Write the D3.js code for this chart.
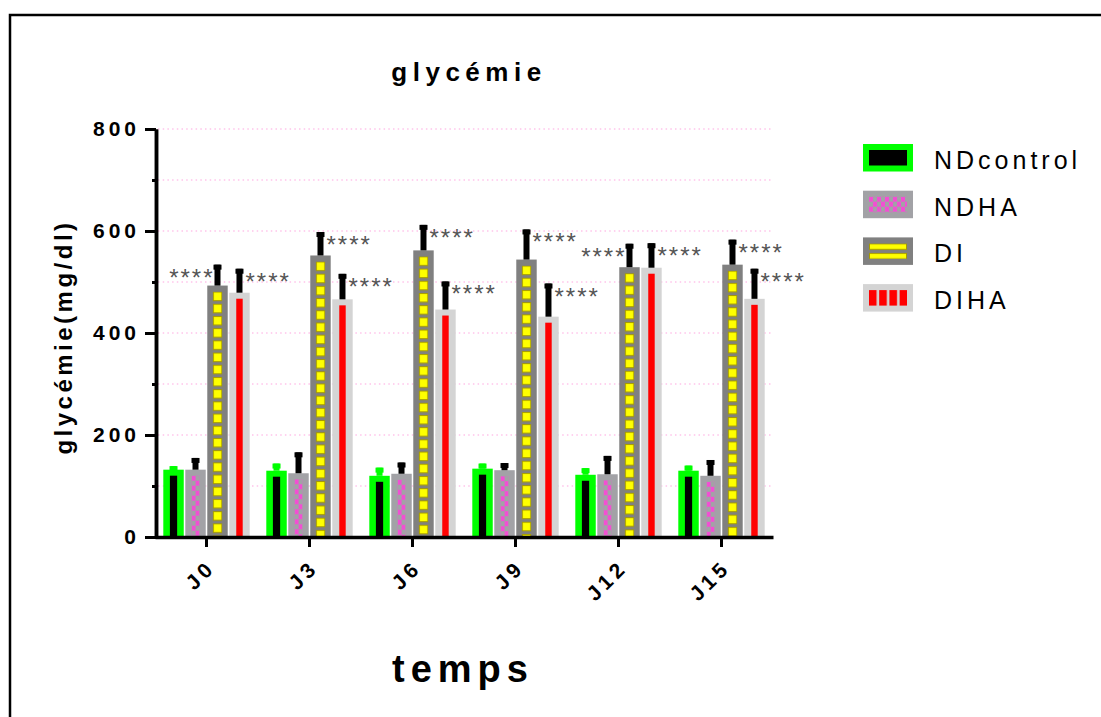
<!DOCTYPE html>
<html>
<head>
<meta charset="utf-8">
<script src="https://cdn.jsdelivr.net/npm/d3@7"></script>
<style>
body { margin: 0; background: #fff; }
text { font-family: "Liberation Sans", Arial, sans-serif; }
</style>
</head>
<body>
<script>
// data
var categories = ["J0", "J3", "J6", "J9", "J12", "J15"];
var seriesNames = ["NDcontrol", "NDHA", "DI", "DIHA"];

var ndControl = [132, 130, 120, 134, 122, 130];
var ndControlSd = [7, 14, 16, 10, 13, 10];
var ndha = [132, 125, 124, 131, 123, 120];
var ndhaSd = [23, 41, 22, 14, 36, 31];
var di = [493, 552, 562, 544, 529, 534];
var diSd = [41, 46, 50, 59, 46, 49];
var diha = [479, 466, 446, 432, 528, 467];
var dihaSd = [47, 50, 55, 65, 48, 59];

// which side the significance stars sit on
var diStars = ["left", "right", "right", "right", "left", "right"];
var dihaStars = ["right", "right", "right", "right", "right", "right"];

var yMajorTicks = [0, 200, 400, 600, 800];
var yMinorTicks = [100, 300, 500, 700];
var gridValues = [100, 200, 300, 400, 500, 600, 700, 800];

var legendLabels = ["NDcontrol", "NDHA", "DI", "DIHA"];

window.onload = drawChart();

function drawChart(){

    var width = 1101,
        height = 717;

    var svg = d3.select("body")
        .append("svg")
        .attr("width", width)
        .attr("height", height);

    // frame around the whole figure
    svg.append("rect")
        .attr("x", 10)
        .attr("y", 15)
        .attr("width", 1200)
        .attr("height", 800)
        .attr("fill", "none")
        .attr("stroke", "#000")
        .attr("stroke-width", 2.5);

    var defs = svg.append("defs");

    // NDHA: magenta checker
    var pNdha = defs.append("pattern")
        .attr("id", "pNdha")
        .attr("patternUnits", "userSpaceOnUse")
        .attr("width", 8)
        .attr("height", 10);
    pNdha.append("rect").attr("x", 0).attr("y", 0).attr("width", 4).attr("height", 5).attr("fill", "#f24fd3");
    pNdha.append("rect").attr("x", 4).attr("y", 5).attr("width", 4).attr("height", 5).attr("fill", "#f24fd3");

    // DI: yellow blocks with olive edge
    var diInnerW = 9.4;
    var pDi = defs.append("pattern")
        .attr("id", "pDi")
        .attr("patternUnits", "userSpaceOnUse")
        .attr("width", diInnerW)
        .attr("height", 12.2);
    pDi.append("rect")
        .attr("x", 0.5).attr("y", 0.5)
        .attr("width", diInnerW - 1).attr("height", 8.6)
        .attr("fill", "#ffff00")
        .attr("stroke", "#a69b00")
        .attr("stroke-width", 1);

    // legend versions
    var pDiLeg = defs.append("pattern")
        .attr("id", "pDiLeg")
        .attr("patternUnits", "userSpaceOnUse")
        .attr("width", 38)
        .attr("height", 9.5);
    pDiLeg.append("rect")
        .attr("x", 0.5).attr("y", 0.5)
        .attr("width", 37).attr("height", 5.5)
        .attr("fill", "#ffff00")
        .attr("stroke", "#a69b00")
        .attr("stroke-width", 1);

    var pDihaLeg = defs.append("pattern")
        .attr("id", "pDihaLeg")
        .attr("patternUnits", "userSpaceOnUse")
        .attr("width", 10.2)
        .attr("height", 20);
    pDihaLeg.append("rect").attr("x", 0).attr("y", 0).attr("width", 7.6).attr("height", 20).attr("fill", "#ff0000");

    // styles per series
    var styles = [
        {border: "#00ff00", fill: "#000000", legFill: "#000000", err: "#00ff00", inset: 6.6},
        {border: "#a2a2a6", fill: "url(#pNdha)", legFill: "url(#pNdha)", err: "#000000", inset: 6.3},
        {border: "#808080", fill: "url(#pDi)", legFill: "url(#pDiLeg)", err: "#000000", inset: 5.6},
        {border: "#d4d4d4", fill: "#ff0000", legFill: "url(#pDihaLeg)", err: "#000000", inset: 7}
    ];

    var means = [ndControl, ndha, di, diha];
    var sds = [ndControlSd, ndhaSd, diSd, dihaSd];

    // build one row per bar
    var rows = [];
    categories.forEach(function(cat, i){
        seriesNames.forEach(function(s, j){
            rows.push({cat: cat, series: s, idx: j, mean: means[j][i], sd: sds[j][i]});
        });
    });

    var x = d3.scaleBand()
        .domain(categories)
        .range([155, 773]);

    var xInner = d3.scaleBand()
        .domain(seriesNames)
        .range([-43.2, 43.2])
        .paddingInner(0.07);

    var y = d3.scaleLinear()
        .domain([0, 800])
        .range([537, 129]);

    // dotted pink gridlines
    svg.selectAll(".grid")
        .data(gridValues)
        .enter()
        .append("line")
        .attr("class", "grid")
        .attr("x1", 158)
        .attr("x2", 773)
        .attr("y1", function(d){ return y(d); })
        .attr("y2", function(d){ return y(d); })
        .attr("stroke", "#ffc4ea")
        .attr("stroke-width", 1.5)
        .attr("stroke-dasharray", "1.5,3.2");

    var bw = xInner.bandwidth();

    var bars = svg.selectAll(".bar")
        .data(rows)
        .enter()
        .append("g")
        .attr("class", "bar")
        .attr("transform", function(d){
            return "translate(" + (x(d.cat) + x.bandwidth() / 2 + xInner(d.series)) + "," + y(d.mean) + ")";
        });

    bars.append("rect")
        .attr("x", 0)
        .attr("y", 0)
        .attr("width", bw)
        .attr("height", function(d){ return y(0) - y(d.mean); })
        .attr("fill", function(d){ return styles[d.idx].border; });

    bars.append("g")
        .attr("transform", function(d){
            var ins = styles[d.idx].inset;
            return "translate(" + ins + ",6)";
        })
        .append("rect")
        .attr("x", 0)
        .attr("y", 0)
        .attr("width", function(d){ return bw - 2 * styles[d.idx].inset; })
        .attr("height", function(d){ return y(0) - y(d.mean) - 6; })
        .attr("fill", function(d){ return styles[d.idx].fill; });

    // error bars (mean to mean + sd)
    bars.append("line")
        .attr("x1", bw / 2)
        .attr("x2", bw / 2)
        .attr("y1", 0)
        .attr("y2", function(d){ return y(d.mean + d.sd) - y(d.mean); })
        .attr("stroke", function(d){ return styles[d.idx].err; })
        .attr("stroke-width", 6);

    bars.append("rect")
        .attr("x", bw / 2 - 4)
        .attr("y", function(d){ return y(d.mean + d.sd) - y(d.mean); })
        .attr("width", 8)
        .attr("height", 5)
        .attr("fill", function(d){ return styles[d.idx].err; });

    // stars
    var starRows = [];
    categories.forEach(function(cat, i){
        starRows.push({cat: cat, series: "DI", top: di[i] + diSd[i], side: diStars[i]});
        starRows.push({cat: cat, series: "DIHA", top: diha[i] + dihaSd[i], side: dihaStars[i]});
    });

    svg.selectAll(".stars")
        .data(starRows)
        .enter()
        .append("text")
        .attr("class", "stars")
        .attr("x", function(d){
            var c = x(d.cat) + x.bandwidth() / 2 + xInner(d.series) + bw / 2;
            return d.side == "right" ? c + 6 : c - 3;
        })
        .attr("y", function(d){ return y(d.top) + 21; })
        .attr("text-anchor", function(d){ return d.side == "right" ? "start" : "end"; })
        .attr("font-size", 24)
        .attr("letter-spacing", 2)
        .attr("fill", "#555")
        .text("****");

    // y axis
    var yMinor = d3.axisLeft(y)
        .tickValues(yMinorTicks)
        .tickSize(4)
        .tickSizeOuter(0)
        .tickFormat("");
    var yMajor = d3.axisLeft(y)
        .tickValues(yMajorTicks)
        .tickSize(11)
        .tickSizeOuter(0)
        .tickPadding(5);

    var gMinor = svg.append("g")
        .attr("transform", "translate(156,0)")
        .call(yMinor);
    var gMajor = svg.append("g")
        .attr("transform", "translate(156,0)")
        .call(yMajor);

    [gMinor, gMajor].forEach(function(g){
        g.select(".domain").attr("stroke", "#000").attr("stroke-width", 3.5);
        g.selectAll(".tick line").attr("stroke", "#000").attr("stroke-width", 3);
    });
    gMajor.selectAll(".tick text")
        .attr("font-size", 21)
        .attr("font-weight", "bold")
        .attr("letter-spacing", 4)
        .attr("fill", "#000");

    // x axis
    var xAxis = d3.axisBottom(x)
        .tickSize(10)
        .tickSizeOuter(0)
        .tickFormat("");

    var gx = svg.append("g")
        .attr("transform", "translate(0,537)")
        .call(xAxis);
    gx.select(".domain").attr("stroke", "#000").attr("stroke-width", 3.5);
    gx.selectAll(".tick line").attr("stroke", "#000").attr("stroke-width", 3);

    svg.selectAll(".xlab")
        .data(categories)
        .enter()
        .append("text")
        .attr("class", "xlab")
        .attr("transform", function(d){
            return "translate(" + (x(d) + x.bandwidth() / 2 + 10) + ",569) rotate(-45)";
        })
        .attr("text-anchor", "end")
        .attr("font-size", 21)
        .attr("font-weight", "bold")
        .attr("letter-spacing", 4)
        .text(function(d){ return d; });

    // titles
    svg.append("text")
        .attr("x", 469)
        .attr("y", 81)
        .attr("text-anchor", "middle")
        .attr("font-size", 26)
        .attr("font-weight", "bold")
        .attr("letter-spacing", 5.5)
        .text("glycémie");

    svg.append("text")
        .attr("transform", "translate(72,337) rotate(-90)")
        .attr("text-anchor", "middle")
        .attr("font-size", 24)
        .attr("font-weight", "bold")
        .attr("letter-spacing", 3.5)
        .text("glycémie(mg/dl)");

    svg.append("text")
        .attr("x", 463)
        .attr("y", 682)
        .attr("text-anchor", "middle")
        .attr("font-size", 38)
        .attr("font-weight", "bold")
        .attr("letter-spacing", 6)
        .text("temps");

    // legend
    var legend = svg.selectAll(".legend")
        .data(seriesNames)
        .enter()
        .append("g")
        .attr("class", "legend")
        .attr("transform", function(d, i){ return "translate(863," + (144 + i * 46.7) + ")"; });

    legend.append("rect")
        .attr("width", 50)
        .attr("height", 27.5)
        .attr("fill", function(d, i){ return styles[i].border; });

    legend.append("g")
        .attr("transform", "translate(6,6)")
        .append("rect")
        .attr("width", 38)
        .attr("height", 15.5)
        .attr("fill", function(d, i){ return styles[i].legFill; });

    legend.append("text")
        .attr("x", 71)
        .attr("y", 25)
        .attr("font-size", 25)
        .attr("letter-spacing", 4)
        .text(function(d, i){ return legendLabels[i]; });
}
</script>
</body>
</html>
